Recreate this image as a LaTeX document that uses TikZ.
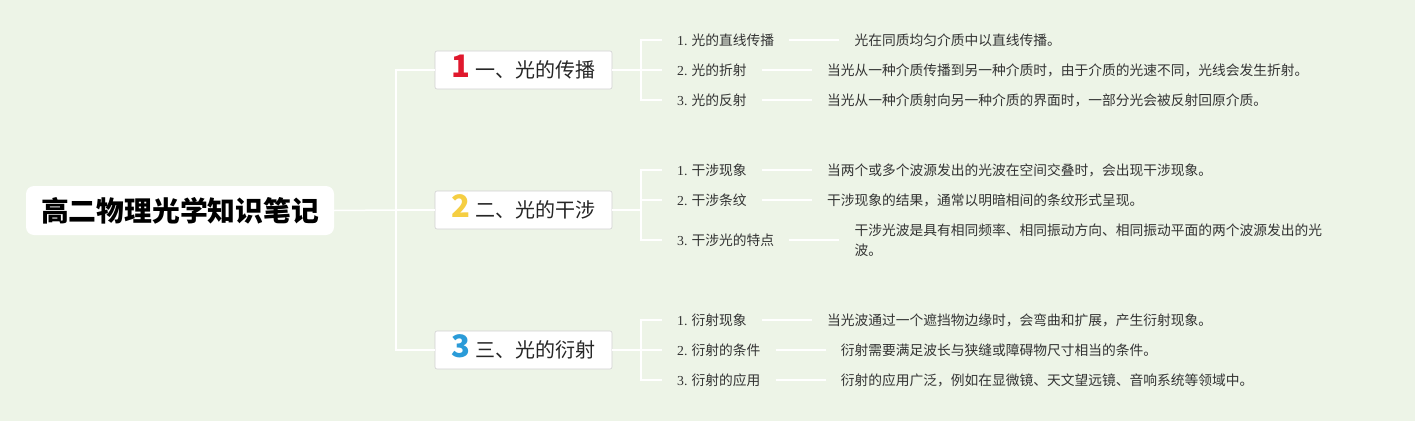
\documentclass[tikz,border=0pt]{standalone}
\usepackage{fontspec}
\setmainfont{Liberation Serif}
\newfontfamily\cjk{Noto Sans CJK SC}
\definecolor{bgc}{HTML}{EDF4E7}
\definecolor{numred}{HTML}{E0182D}
\definecolor{numyellow}{HTML}{F5CE42}
\definecolor{numblue}{HTML}{2A9BD8}
\definecolor{txt}{HTML}{333333}
\newcommand{\bignum}[2]{\smash{\textcolor{#1}{\fontsize{31}{31}\selectfont\bfseries #2}}}
\begin{document}
\begin{tikzpicture}[x=1pt,y=-1pt,
  conn/.style={draw=white,line width=1.5pt},
  rootbox/.style={fill=white,rounded corners=8pt,minimum width=308pt,minimum height=49pt,inner sep=0pt,font=\cjk\bfseries\fontsize{27.8}{30}\selectfont,text=black},
  branchbox/.style={fill=white,draw=black!18,line width=0.6pt,rounded corners=2pt,minimum width=177pt,minimum height=38pt,inner sep=0pt,font=\cjk\fontsize{20}{24}\selectfont,text=black!85},
  itemlabel/.style={anchor=west,inner xsep=15pt,inner ysep=0pt,font=\cjk\fontsize{13.75}{20}\selectfont,text=txt},
  detail/.style={anchor=west,inner xsep=15pt,inner ysep=0pt,font=\cjk\fontsize{13.75}{20.5}\selectfont,text=txt,align=left}
]
\useasboundingbox (0,0) rectangle (1415,420);
\fill[bgc] (-5,-5) rectangle (1420,425);

\node[rootbox] (root) at (180,210.5) {高二物理光学知识笔记};

\node[branchbox] (b1) at (523.5,70) {\bignum{numred}{1}\hspace{6pt}一、光的传播};
\node[branchbox] (b2) at (523.5,210) {\bignum{numyellow}{2}\hspace{6pt}二、光的干涉};
\node[branchbox] (b3) at (523.5,350) {\bignum{numblue}{3}\hspace{6pt}三、光的衍射};

\coordinate (j0) at (396,210);
\draw[conn] (root.east) -- (j0);
\draw[conn] (j0) |- (b1.west);
\draw[conn] (j0) -- (b2.west);
\draw[conn] (j0) |- (b3.west);

% group 1
\node[itemlabel] (l11) at (662,40) {{\rmfamily 1.} 光的直线传播};
\node[itemlabel] (l12) at (662,70) {{\rmfamily 2.} 光的折射};
\node[itemlabel] (l13) at (662,100) {{\rmfamily 3.} 光的反射};
\node[detail] (d11) at ([xshift=50pt]l11.east) {光在同质均匀介质中以直线传播。};
\node[detail] (d12) at ([xshift=50pt]l12.east) {当光从一种介质传播到另一种介质时，由于介质的光速不同，光线会发生折射。};
\node[detail] (d13) at ([xshift=50pt]l13.east) {当光从一种介质射向另一种介质的界面时，一部分光会被反射回原介质。};

% group 2
\node[itemlabel] (l21) at (662,170) {{\rmfamily 1.} 干涉现象};
\node[itemlabel] (l22) at (662,200) {{\rmfamily 2.} 干涉条纹};
\node[itemlabel] (l23) at (662,240) {{\rmfamily 3.} 干涉光的特点};
\node[detail] (d21) at ([xshift=50pt]l21.east) {当两个或多个波源发出的光波在空间交叠时，会出现干涉现象。};
\node[detail] (d22) at ([xshift=50pt]l22.east) {干涉现象的结果，通常以明暗相间的条纹形式呈现。};
\node[detail] (d23) at ([xshift=50pt]l23.east) {干涉光波是具有相同频率、相同振动方向、相同振动平面的两个波源发出的光\\波。};

% group 3
\node[itemlabel] (l31) at (662,320) {{\rmfamily 1.} 衍射现象};
\node[itemlabel] (l32) at (662,350) {{\rmfamily 2.} 衍射的条件};
\node[itemlabel] (l33) at (662,380) {{\rmfamily 3.} 衍射的应用};
\node[detail] (d31) at ([xshift=50pt]l31.east) {当光波通过一个遮挡物边缘时，会弯曲和扩展，产生衍射现象。};
\node[detail] (d32) at ([xshift=50pt]l32.east) {衍射需要满足波长与狭缝或障碍物尺寸相当的条件。};
\node[detail] (d33) at ([xshift=50pt]l33.east) {衍射的应用广泛，例如在显微镜、天文望远镜、音响系统等领域中。};

\coordinate (g1) at (641,70);
\coordinate (g2) at (641,210);
\coordinate (g3) at (641,350);
\draw[conn] (b1.east) -- (g1);
\draw[conn] (b2.east) -- (g2);
\draw[conn] (b3.east) -- (g3);
\foreach \g/\i in {1/1,1/2,1/3,2/1,2/2,2/3,3/1,3/2,3/3}{
  \draw[conn] (g\g) |- (l\g\i.west);
  \draw[conn] (l\g\i.east) -- (d\g\i.west);
}
\end{tikzpicture}
\end{document}
